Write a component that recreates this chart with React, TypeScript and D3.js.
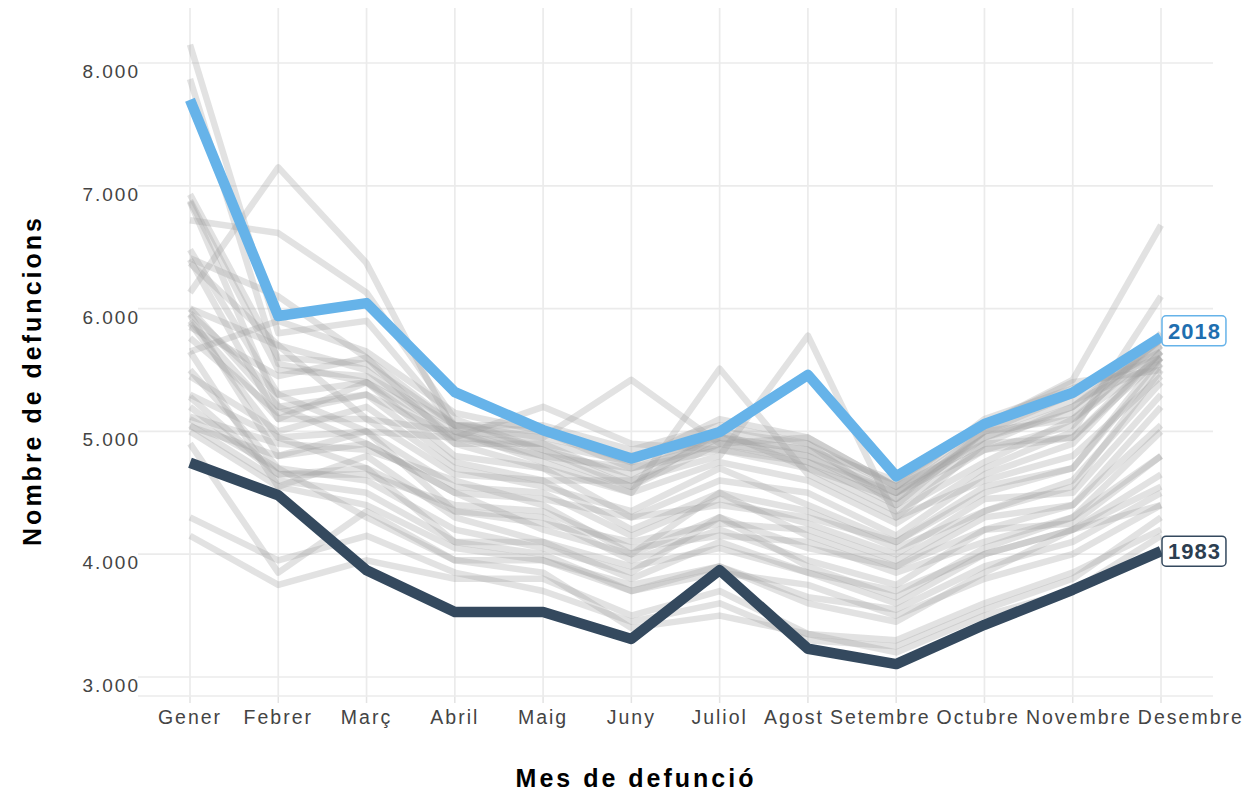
import React, { useRef, useEffect } from 'react';
import * as d3 from 'd3';

// months as shown on the x axis
const months = ['Gener', 'Febrer', 'Març', 'Abril', 'Maig', 'Juny', 'Juliol', 'Agost', 'Setembre', 'Octubre', 'Novembre', 'Desembre'];

const yTicks = [3000, 4000, 5000, 6000, 7000, 8000];

// highlighted years
const values2018 = [7700, 5940, 6045, 5320, 5010, 4780, 4995, 5460, 4635, 5060, 5315, 5770];
const values1983 = [4745, 4480, 3870, 3530, 3530, 3310, 3870, 3230, 3105, 3425, 3710, 4025];

// background years 1984-2017 (approximate)
const grayYears = d3.range(1984, 2018);
const grayValues = [
  [4150, 3750, 3950, 3800, 3800, 3500, 3700, 3350, 3200, 3500, 3700, 4150],
  [4300, 3950, 4150, 3850, 3700, 3450, 3600, 3300, 3250, 3550, 3800, 4300],
  [4900, 3850, 4350, 3950, 3850, 3400, 3500, 3350, 3300, 3600, 3850, 4200],
  [5050, 4600, 4500, 4100, 4000, 3700, 3850, 3750, 3500, 3800, 4000, 4400],
  [5100, 4700, 4300, 3950, 3950, 3750, 3900, 3650, 3550, 3900, 4100, 4500],
  [5650, 4550, 4400, 4050, 3950, 3700, 3900, 3600, 3450, 3850, 4200, 4650],
  [5200, 4650, 4700, 4100, 4100, 3800, 4100, 3850, 3600, 4000, 4200, 4550],
  [5500, 4700, 4600, 4200, 4050, 3850, 4300, 3900, 3650, 4050, 4300, 4800],
  [5000, 4550, 4800, 4300, 4100, 3900, 4050, 3850, 3700, 4000, 4200, 4400],
  [5300, 4950, 5000, 4350, 4300, 3950, 4200, 3950, 3750, 4200, 4250, 4800],
  [5280, 4650, 4650, 4400, 4350, 4050, 4150, 4100, 3850, 4100, 4300, 5000],
  [5950, 4800, 4900, 4500, 4200, 4000, 4500, 4150, 3900, 4200, 4400, 5050],
  [5120, 4900, 4850, 4600, 4400, 4000, 4300, 4050, 3900, 4300, 4400, 5200],
  [5880, 4950, 4700, 4350, 4250, 4100, 4250, 4200, 3950, 4350, 4600, 5400],
  [5040, 4800, 5000, 4550, 4500, 4150, 4450, 4250, 4000, 4450, 4500, 5300],
  [6400, 5100, 5100, 4650, 4600, 4200, 4500, 4350, 4050, 4350, 4550, 5500],
  [6870, 5200, 4900, 4500, 4450, 4300, 4400, 4300, 4100, 4500, 4700, 5550],
  [5450, 5000, 5200, 4700, 4550, 4350, 4700, 4400, 4100, 4550, 4700, 5600],
  [5900, 5100, 5400, 4800, 4700, 4300, 4600, 4500, 4150, 4650, 4900, 5650],
  [6000, 5200, 5300, 4750, 4600, 4600, 4800, 5780, 4300, 4600, 4800, 5450],
  [6130, 7150, 6370, 5000, 4750, 4500, 4750, 4600, 4250, 4700, 5000, 6100],
  [6930, 5600, 5550, 5050, 4850, 4550, 5000, 4700, 4350, 4750, 5100, 5700],
  [5850, 5450, 5600, 4900, 4700, 4500, 5510, 4650, 4300, 4900, 4950, 5600],
  [6480, 5300, 5000, 4950, 5200, 4900, 4850, 4750, 4400, 4850, 4950, 5650],
  [6370, 5700, 5100, 5000, 4800, 4700, 4900, 4800, 4450, 4950, 5200, 5700],
  [7870, 5550, 5400, 4900, 4900, 4600, 4950, 4850, 4500, 4950, 5150, 5750],
  [6720, 6615, 6130, 5100, 4850, 4650, 5000, 4900, 4400, 5000, 5300, 5650],
  [6000, 5700, 5500, 4950, 4800, 4550, 4900, 4750, 4500, 4850, 5050, 5800],
  [6410, 6100, 5600, 5050, 4950, 5420, 4900, 4950, 4550, 4900, 5200, 5750],
  [5650, 5900, 5650, 5150, 5000, 4700, 4850, 4700, 4450, 5000, 5250, 5550],
  [5760, 5150, 5300, 4950, 4900, 4750, 4950, 4800, 4500, 5000, 5100, 5600],
  [8150, 5800, 5900, 5050, 5050, 4850, 5050, 4900, 4550, 5100, 5350, 5600],
  [5960, 5300, 5400, 5000, 4950, 4800, 4950, 4850, 4600, 5050, 5400, 5500],
  [6880, 5500, 5450, 5050, 5000, 4750, 5100, 4950, 4550, 5050, 5420, 6680],
];

const highlights = [
  { year: 1983, values: values1983, color: '#34495E', text: '#2C3E50', border: '#34495E' },
  { year: 2018, values: values2018, color: '#66B3E9', text: '#1F6FB0', border: '#66B3E9' },
];

const font = 'Liberation Sans, Arial, sans-serif';

const MortalityChart = () => {
  const svgRef = useRef<SVGSVGElement>(null);

  useEffect(() => {
    const svg = d3.select(svgRef.current);
    svg.selectAll('*').remove();

    const width = 1255;
    const height = 794;
    const panel = { left: 138, right: 1213, top: 8, bottom: 697 };

    const x = d3.scalePoint<string>().domain(months).range([190, 1161]);
    const y = d3.scaleLinear().domain([3000, 8000]).range([677, 63]);

    svg.attr('width', width).attr('height', height);

    // grid
    const grid = svg.append('g');
    grid.selectAll('.hgrid')
      .data(yTicks)
      .join('line')
      .attr('x1', panel.left).attr('x2', panel.right)
      .attr('y1', d => y(d)).attr('y2', d => y(d))
      .attr('stroke', '#ebebeb').attr('stroke-width', 1.7);
    grid.selectAll('.vgrid')
      .data(months)
      .join('line')
      .attr('x1', d => x(d)!).attr('x2', d => x(d)!)
      .attr('y1', panel.top).attr('y2', panel.bottom)
      .attr('stroke', '#ebebeb').attr('stroke-width', 1.7);
    grid.append('line')
      .attr('x1', panel.left).attr('x2', panel.right)
      .attr('y1', panel.bottom - 1).attr('y2', panel.bottom - 1)
      .attr('stroke', '#ebebeb').attr('stroke-width', 1.7);
    grid.selectAll('.tick')
      .data(months)
      .join('line')
      .attr('x1', d => x(d)!).attr('x2', d => x(d)!)
      .attr('y1', panel.bottom).attr('y2', panel.bottom + 6)
      .attr('stroke', '#e3e3e3').attr('stroke-width', 1.5);

    const line = d3.line<number>()
      .x((_, i) => x(months[i])!)
      .y(d => y(d));

    // background years
    svg.append('g')
      .selectAll('path')
      .data(grayValues)
      .join('path')
      .attr('d', d => line(d))
      .attr('fill', 'none')
      .attr('stroke', '#9e9e9e')
      .attr('stroke-opacity', 0.3)
      .attr('stroke-width', 6.5)
      .attr('stroke-linejoin', 'round')
      .attr('data-year', (_, i) => grayYears[i]);

    // highlighted years
    svg.append('g')
      .selectAll('path')
      .data(highlights)
      .join('path')
      .attr('d', d => line(d.values))
      .attr('fill', 'none')
      .attr('stroke', d => d.color)
      .attr('stroke-width', 10.5)
      .attr('stroke-linejoin', 'round');

    // end labels
    const last = months[months.length - 1];
    highlights.forEach(h => {
      const g = svg.append('g');
      const cy = y(h.values[h.values.length - 1]) - (h.year === 2018 ? 6 : 0);
      const t = g.append('text')
        .attr('x', x(last)! + 7)
        .attr('y', cy + 8)
        .attr('font-family', font)
        .attr('font-weight', 'bold')
        .attr('font-size', 22)
        .attr('letter-spacing', 1)
        .attr('fill', h.text)
        .text(String(h.year));
      const w = (t.node() as SVGTextElement).getComputedTextLength();
      g.insert('rect', 'text')
        .attr('x', x(last)! + 1)
        .attr('y', cy - 15)
        .attr('width', w + 11)
        .attr('height', 30)
        .attr('rx', 4)
        .attr('fill', 'white')
        .attr('stroke', h.border)
        .attr('stroke-width', 1.5);
    });

    // y tick labels
    svg.append('g')
      .selectAll('text')
      .data(yTicks)
      .join('text')
      .attr('x', panel.left + 2)
      .attr('y', d => y(d) + 15)
      .attr('text-anchor', 'end')
      .attr('font-family', font)
      .attr('font-size', 19)
      .attr('letter-spacing', 2)
      .attr('fill', '#444')
      .text(d => d3.format(',')(d).replace(',', '.'));

    // x tick labels (clipped at the bottom like the original export)
    svg.append('clipPath').attr('id', 'xlab-clip')
      .append('rect').attr('x', 0).attr('y', 700).attr('width', width).attr('height', 28);
    const xl = svg.append('g').attr('clip-path', 'url(#xlab-clip)');
    const labels = xl.selectAll('text')
      .data(months)
      .join('text')
      .attr('x', d => x(d)!)
      .attr('y', 724)
      .attr('text-anchor', 'middle')
      .attr('font-family', font)
      .attr('font-size', 19.5)
      .attr('letter-spacing', 2)
      .attr('fill', '#444')
      .text(d => d);

    // push overlapping labels apart
    const widths = labels.nodes().map(n => (n as SVGTextElement).getComputedTextLength());
    const centers = months.map(m => x(m)!);
    for (let it = 0; it < 200; it++) {
      for (let i = 0; i < centers.length - 1; i++) {
        const overlap = centers[i] + widths[i] / 2 + 6 - (centers[i + 1] - widths[i + 1] / 2);
        if (overlap > 0) {
          centers[i] -= overlap / 2;
          centers[i + 1] += overlap / 2;
        }
      }
    }
    labels.attr('x', (_, i) => centers[i]);

    // axis titles
    svg.append('text')
      .attr('x', 636)
      .attr('y', 787)
      .attr('text-anchor', 'middle')
      .attr('font-family', font)
      .attr('font-weight', 'bold')
      .attr('font-size', 25)
      .attr('letter-spacing', 3)
      .attr('fill', '#000')
      .text('Mes de defunció');

    svg.append('text')
      .attr('transform', `translate(41,${(panel.top + panel.bottom) / 2 + 28}) rotate(-90)`)
      .attr('text-anchor', 'middle')
      .attr('font-family', font)
      .attr('font-weight', 'bold')
      .attr('font-size', 25)
      .attr('letter-spacing', 3)
      .attr('fill', '#000')
      .text('Nombre de defuncions');
  }, []);

  return <svg ref={svgRef} style={{ display: 'block' }}></svg>;
};

export default function App() {
  return (
    <div style={{ position: 'absolute', left: 0, top: 0, background: 'white' }}>
      <MortalityChart />
    </div>
  );
}
